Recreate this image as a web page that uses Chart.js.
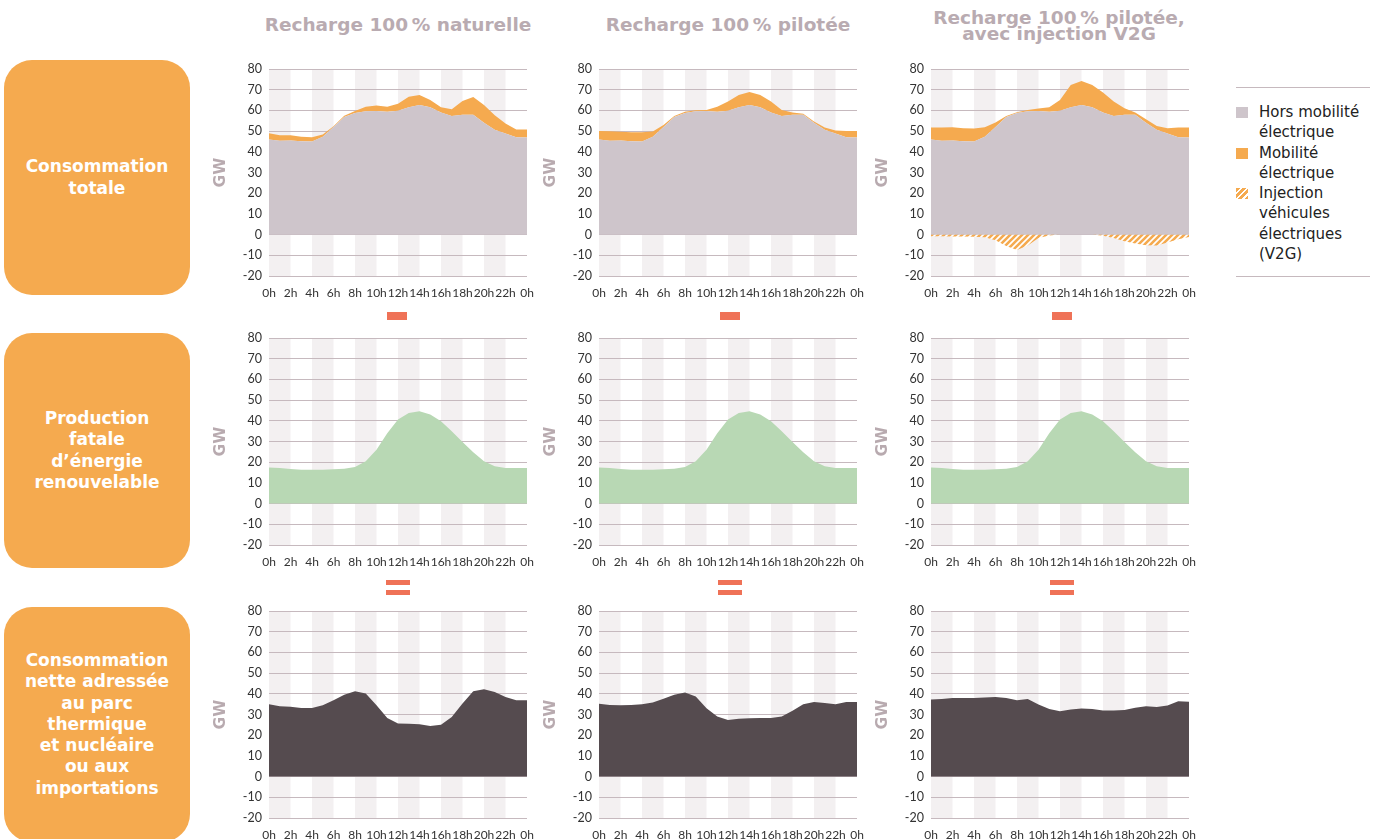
<!DOCTYPE html>
<html lang="fr">
<head>
<meta charset="utf-8">
<title>Consommation, production fatale et consommation nette</title>
<script src="https://cdn.jsdelivr.net/npm/chart.js@4/dist/chart.umd.min.js"></script>
<style>
  html, body { margin: 0; padding: 0; background: #fff; }
  body { width: 1379px; height: 839px; position: relative; overflow: hidden; font-family: "DejaVu Sans", sans-serif; }
  .titre-col { position: absolute; width: 340px; text-align: center; color: #b9abb1; font-weight: bold; font-size: 18.5px; white-space: nowrap; }
  .ligne { position: absolute; left: 4px; width: 186px; height: 235px; border-radius: 28px; background: #f5aa4f;
           display: flex; align-items: center; justify-content: center; text-align: center;
           color: #fff; font-weight: bold; font-size: 17px; line-height: 21.2px; }
  .graphe { position: absolute; }
  .op { position: absolute; background: #ef7257; }
  .legende { position: absolute; left: 1236px; top: 87px; width: 134px; border-top: 1px solid #c6b9be; border-bottom: 1px solid #c6b9be;
             padding: 14px 0 12px 0; font-size: 15px; line-height: 20.3px; color: #222; }
  .item { position: relative; padding-left: 23px; }
  .carre { position: absolute; left: 0; top: 5px; width: 12px; height: 11px; }
</style>
</head>
<body>

<div class="titre-col" style="left:228px; top:15px; line-height:20px;">Recharge 100&#8201;% naturelle</div>
<div class="titre-col" style="left:558px; top:15px; line-height:20px;">Recharge 100&#8201;% pilotée</div>
<div class="titre-col" style="left:889px; top:10px; line-height:16px;">Recharge 100&#8201;% pilotée,<br>avec injection V2G</div>

<div class="ligne" style="top:60px;">Consommation<br>totale</div>
<div class="ligne" style="top:333px;">Production<br>fatale<br>d’énergie<br>renouvelable</div>
<div class="ligne" style="top:607px;">Consommation<br>nette adressée<br>au parc<br>thermique<br>et nucléaire<br>ou aux<br>importations</div>

<canvas id="g11" class="graphe" width="332" height="244" style="left:205px; top:54px;"></canvas>
<canvas id="g12" class="graphe" width="332" height="244" style="left:535px; top:54px;"></canvas>
<canvas id="g13" class="graphe" width="332" height="244" style="left:867px; top:54px;"></canvas>
<canvas id="g21" class="graphe" width="332" height="244" style="left:205px; top:323px;"></canvas>
<canvas id="g22" class="graphe" width="332" height="244" style="left:535px; top:323px;"></canvas>
<canvas id="g23" class="graphe" width="332" height="244" style="left:867px; top:323px;"></canvas>
<canvas id="g31" class="graphe" width="332" height="244" style="left:205px; top:596px;"></canvas>
<canvas id="g32" class="graphe" width="332" height="244" style="left:535px; top:596px;"></canvas>
<canvas id="g33" class="graphe" width="332" height="244" style="left:867px; top:596px;"></canvas>

<!-- signes moins et égal entre les lignes -->
<div class="op" style="left:387px; top:312px; width:20px; height:8px;"></div>
<div class="op" style="left:720px; top:312px; width:20px; height:8px;"></div>
<div class="op" style="left:1052px; top:312px; width:20px; height:8px;"></div>
<div class="op" style="left:386px; top:580px; width:24px; height:5px;"></div>
<div class="op" style="left:386px; top:590px; width:24px; height:5px;"></div>
<div class="op" style="left:718px; top:580px; width:24px; height:5px;"></div>
<div class="op" style="left:718px; top:590px; width:24px; height:5px;"></div>
<div class="op" style="left:1050px; top:580px; width:24px; height:5px;"></div>
<div class="op" style="left:1050px; top:590px; width:24px; height:5px;"></div>

<div class="legende">
  <div class="item"><span class="carre" style="background:#cec5cb;"></span>Hors mobilité<br>électrique</div>
  <div class="item"><span class="carre" style="background:#f5aa4f;"></span>Mobilité<br>électrique</div>
  <div class="item"><span class="carre" style="background:repeating-linear-gradient(135deg, #f5aa4f 0 3px, #fff 3px 4.5px);"></span>Injection<br>véhicules<br>électriques<br>(V2G)</div>
</div>

<script>
var heures = ['0h', '1h', '2h', '3h', '4h', '5h', '6h', '7h', '8h', '9h', '10h', '11h', '12h',
              '13h', '14h', '15h', '16h', '17h', '18h', '19h', '20h', '21h', '22h', '23h', '0h'];

// consommation hors mobilité électrique (identique dans les 3 scénarios), GW
var horsMobilite = [46, 45.3, 45.5, 45.1, 45, 47.3, 52, 56.8, 58.8, 59.6, 59.7, 59.4, 59.8,
                    61.5, 62.6, 61.5, 59, 57.3, 57.9, 57.9, 54, 50.7, 48.9, 47, 46.9];

// mobilité électrique selon le mode de recharge, GW
var mobiliteNaturelle = [3, 2.7, 2.5, 2.2, 2, 1.1, 0.4, 0.6, 0.9, 2.2, 2.7, 2.4, 3.4,
                         5.1, 4.8, 3.5, 2.5, 3.3, 6.6, 8.6, 8.6, 7, 4.8, 3.8, 3.9];
var mobilitePilotee = [4, 4.6, 4.2, 4.4, 4.4, 2.5, 1, 0.5, 0.6, 0.5, 0.5, 2.4, 4.5,
                       6, 6.3, 6, 5.3, 2.9, 1.1, 0.5, 0.6, 1, 1.4, 3.1, 3.2];
var mobiliteV2G = [5.7, 6.4, 6.4, 6.3, 6.2, 4.6, 2.1, 0.5, 0.3, 0.6, 1.2, 2.1, 5.2,
                   10.8, 11.6, 10.8, 9.6, 7, 3.1, 1.1, 1.7, 1.8, 2.5, 4.7, 4.8];
var injectionV2G = [-0.8, -0.8, -0.9, -0.9, -1, -1.3, -2.7, -5.5, -7.4, -5.3, -1.7, -0.4, 0,
                    0, 0, 0, -0.5, -1.6, -3.2, -4.3, -5.2, -5.3, -3.8, -2.2, -1.1];

// production fatale d'énergie renouvelable, GW
var productionFatale = [17.5, 17.2, 16.7, 16.4, 16.3, 16.4, 16.6, 16.8, 17.7, 20.4, 26, 34, 40.6,
                        43.8, 44.6, 43, 39.8, 35, 29.8, 24.8, 20.4, 18, 17.2, 17.2, 17.2];

// consommation nette, GW
var netteNaturelle = [34.9, 34, 33.7, 33.2, 33.2, 34.5, 36.9, 39.6, 41.2, 40.1, 34.5, 28.3, 25.6,
                      25.5, 25.3, 24.5, 25.1, 28.8, 35.3, 41.2, 42.2, 40.9, 38.5, 36.9, 36.9];
var nettePilotee = [35.2, 34.6, 34.5, 34.6, 35, 35.8, 37.6, 39.5, 40.6, 38.7, 33, 29, 27.4,
                    27.9, 28.2, 28.3, 28.3, 29, 31.8, 35, 36, 35.5, 35, 36, 36];
var netteV2G = [37.2, 37.5, 38, 38, 38, 38.2, 38.5, 38, 36.9, 37.5, 34.8, 32.7, 31.6,
                32.4, 32.9, 32.7, 31.9, 31.9, 32.2, 33.3, 34, 33.6, 34.3, 36.4, 36.2];

var police = 'Lato, "DejaVu Sans", sans-serif';

// bandes grises une tranche de 2h sur deux
var bandes = {
    id: 'bandes',
    beforeDraw: function(chart) {
        var ctx = chart.ctx, x = chart.scales.x, a = chart.chartArea;
        ctx.save();
        ctx.fillStyle = '#f3f0f1';
        for (var h = 0; h < 24; h += 4) {
            var x0 = x.getPixelForValue(h), x1 = x.getPixelForValue(h + 2);
            ctx.fillRect(x0, a.top, x1 - x0, a.bottom - a.top);
        }
        ctx.restore();
    }
};

function hachures() {
    var c = document.createElement('canvas');
    c.width = 6; c.height = 6;
    var g = c.getContext('2d');
    g.fillStyle = '#ffffff';
    g.fillRect(0, 0, 6, 6);
    g.strokeStyle = '#f5aa4f';
    g.lineWidth = 2.6;
    g.beginPath();
    g.moveTo(-1, 7); g.lineTo(7, -1);
    g.moveTo(-4, 4); g.lineTo(4, -4);
    g.moveTo(2, 10); g.lineTo(10, 2);
    g.stroke();
    return g.createPattern(c, 'repeat');
}

function serie(data, couleur, remplissage, pile) {
    return {
        data: data,
        backgroundColor: couleur,
        borderWidth: 0,
        pointRadius: 0,
        tension: 0,
        fill: remplissage,
        stack: pile || 'conso'
    };
}

function creerGraphique(id, series) {
    new Chart(document.getElementById(id), {
        type: 'line',
        data: { labels: heures, datasets: series },
        plugins: [bandes],
        options: {
            responsive: false,
            animation: false,
            devicePixelRatio: 1,
            layout: { padding: { top: 15, right: 10, left: 0, bottom: 0 } },
            plugins: { legend: { display: false }, tooltip: { enabled: false } },
            scales: {
                x: {
                    stacked: true,
                    grid: { display: false },
                    border: { display: false },
                    ticks: {
                        autoSkip: false, maxRotation: 0, padding: 2,
                        color: '#333333', font: { family: police, size: 12 },
                        callback: function(v, i) { return i % 2 === 0 ? heures[i] : null; }
                    },
                    afterFit: function(s) { s.height = 22; }
                },
                y: {
                    stacked: true,
                    min: -20, max: 80,
                    grid: { color: '#c6b9be', drawTicks: false },
                    border: { display: false },
                    ticks: { stepSize: 10, padding: 7, color: '#333333', font: { family: police, size: 12.5 } },
                    title: {
                        display: true, text: 'GW', color: '#b8aaaf',
                        font: { family: '"DejaVu Sans", sans-serif', weight: 'bold', size: 15.5 },
                        padding: { top: 7, bottom: 0 }
                    },
                    afterFit: function(s) { s.width = 64; }
                }
            }
        }
    });
}

var gris = '#cec5cb', orange = '#f5aa4f', vert = '#b8d8b4', sombre = '#554b4f';

creerGraphique('g11', [serie(horsMobilite, gris, 'origin'), serie(mobiliteNaturelle, orange, '-1')]);
creerGraphique('g12', [serie(horsMobilite, gris, 'origin'), serie(mobilitePilotee, orange, '-1')]);
creerGraphique('g13', [serie(horsMobilite, gris, 'origin'), serie(mobiliteV2G, orange, '-1'),
                       serie(injectionV2G, hachures(), 'origin', 'injection')]);

creerGraphique('g21', [serie(productionFatale, vert, 'origin')]);
creerGraphique('g22', [serie(productionFatale, vert, 'origin')]);
creerGraphique('g23', [serie(productionFatale, vert, 'origin')]);

creerGraphique('g31', [serie(netteNaturelle, sombre, 'origin')]);
creerGraphique('g32', [serie(nettePilotee, sombre, 'origin')]);
creerGraphique('g33', [serie(netteV2G, sombre, 'origin')]);
</script>
</body>
</html>
